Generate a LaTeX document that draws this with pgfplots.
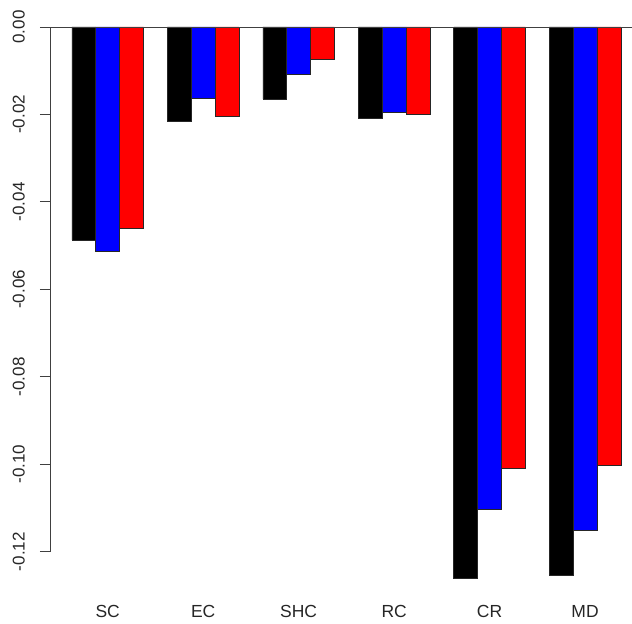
\documentclass[border=0pt]{standalone}
\usepackage{fontspec}
\setmainfont{Liberation Sans}
\usepackage{pgfplots}
\pgfplotsset{compat=1.18}

\begin{document}
\begin{tikzpicture}
% page frame: 632 x 624, top-left at (0,0)
\begin{axis}[
at={(50pt,-27pt)}, anchor=north west,
scale only axis,
width=582pt, height=525pt,
xmin=0.08, xmax=24.45,
ymin=-0.12, ymax=0,
clip=false,
axis y line*=left,
axis x line*=bottom,
x axis line style={draw=none},
y axis line style={draw=black!75, line width=0.8pt},
ytick={-0.12,-0.10,-0.08,-0.06,-0.04,-0.02,0},
ytick style={draw=black!75, line width=0.8pt},
tick align=outside,
major tick length=10pt,
xtick={2.5,6.5,10.5,14.5,18.5,22.5},
xticklabels={SC,EC,SHC,RC,CR,MD},
xtick style={draw=none},
/pgf/number format/assume math mode=true,
yticklabel style={rotate=90, anchor=south, inner sep=0pt,
  font=\fontsize{17}{20}\selectfont, text=black!85,
  /pgf/number format/fixed, /pgf/number format/fixed zerofill,
  /pgf/number format/precision=2},
yticklabel shift=15pt,
xticklabel style={anchor=base, inner sep=0pt,
  font=\fontsize{17.5}{20}\selectfont, text=black!85},
xticklabel shift=56pt,
ybar, bar width=1,
every axis plot/.append style={draw=black!85, line width=0.6pt, bar shift=0pt},
]
\addplot[fill=black] coordinates {(1.5,-0.0487) (5.5,-0.0216) (9.5,-0.0165) (13.5,-0.0209) (17.5,-0.1260) (21.5,-0.1253)};
\addplot[fill=blue] coordinates {(2.5,-0.0512) (6.5,-0.0164) (10.5,-0.0108) (14.5,-0.0195) (18.5,-0.1102) (22.5,-0.1151)};
\addplot[fill=red] coordinates {(3.5,-0.0460) (7.5,-0.0205) (11.5,-0.0074) (15.5,-0.0200) (19.5,-0.1010) (23.5,-0.1003)};
\addplot[sharp plot, no marks, draw=black!75, line width=0.8pt] coordinates {(0.08,0) (24.45,0)};
\end{axis}
\path[use as bounding box] (0,0) rectangle (632pt,-624pt);
\end{tikzpicture}
\end{document}
